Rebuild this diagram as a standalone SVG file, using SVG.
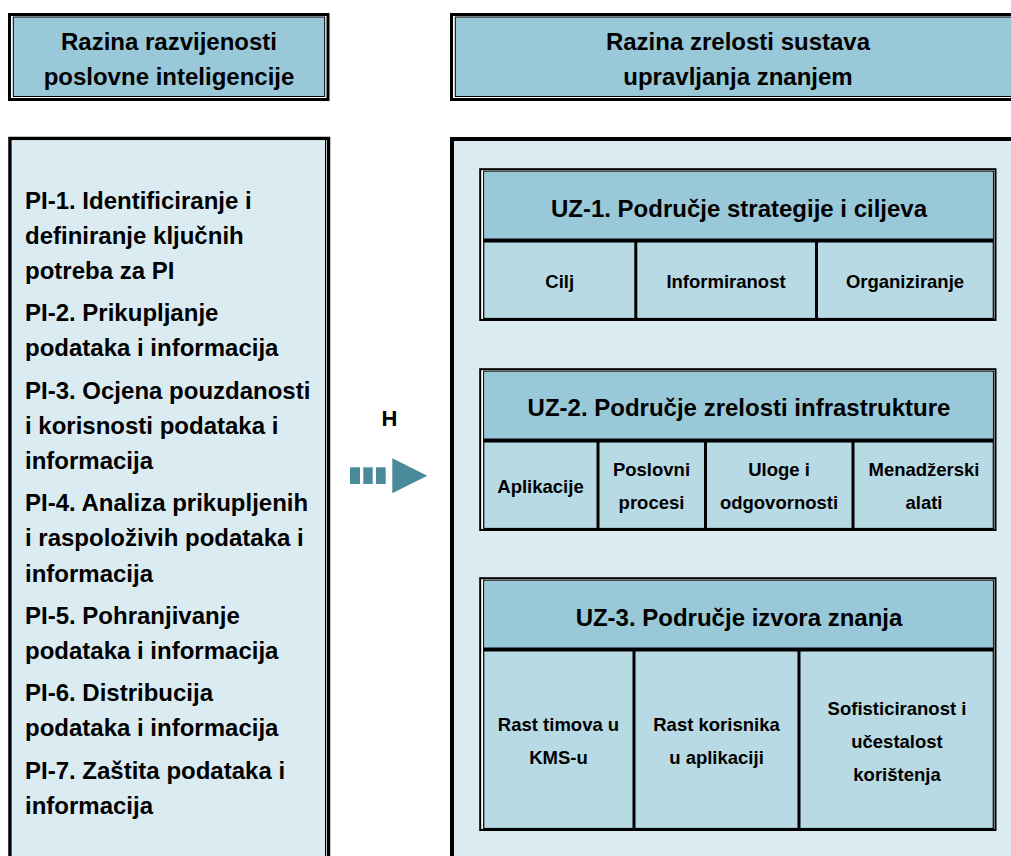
<svg xmlns="http://www.w3.org/2000/svg" width="1011" height="856" viewBox="0 0 1011 856">
<style>
text{font-family:"Liberation Sans",Arial,sans-serif;font-weight:bold;fill:#000}
.big{font-size:24px}
.mid{font-size:24px;text-anchor:middle}
.sm{font-size:18.5px;text-anchor:middle}
.hdr{fill:#99C9D8}
.body{fill:#DAECF2}
.cell{fill:#B8DAE4}
.outer{fill:#fff;stroke:#000;stroke-width:2}
.inner{stroke:#000;stroke-width:1.2}
.sep{stroke:#000;stroke-width:4}
.div{stroke:#000;stroke-width:3}
.arrow{fill:#4A8A9B}
</style>
<rect x="0" y="0" width="1011" height="856" fill="#fff"/>

<g id="hdr-left">
<rect x="9.5" y="14.5" width="318.5" height="85" fill="#fff" stroke="#000" stroke-width="3"/>
<rect x="13.3" y="17" width="311.4" height="79.5" class="hdr" stroke="#000" stroke-width="1"/>
<text class="mid" x="169" y="50">Razina razvijenosti</text>
<text class="mid" x="169" y="85">poslovne inteligencije</text>
</g>

<g id="hdr-right">
<rect x="451.5" y="14.5" width="600" height="85" fill="#fff" stroke="#000" stroke-width="3"/>
<rect x="455.3" y="17" width="600" height="79.5" class="hdr" stroke="#000" stroke-width="1"/>
<text class="mid" x="738" y="50">Razina zrelosti sustava</text>
<text class="mid" x="738" y="85">upravljanja znanjem</text>
</g>

<g id="body-left">
<rect x="10" y="138.5" width="318.5" height="760" fill="#fff" stroke="#000" stroke-width="3.5"/>
<rect x="11.8" y="140.3" width="313.5" height="760" class="body"/>
<line x1="325.5" y1="140" x2="325.5" y2="856" stroke="#000" stroke-width="1"/>
<text class="big" x="25" y="208.5">PI-1. Identificiranje i</text>
<text class="big" x="25" y="243.7">definiranje ključnih</text>
<text class="big" x="25" y="278.9">potreba za PI</text>
<text class="big" x="25" y="321.1">PI-2. Prikupljanje</text>
<text class="big" x="25" y="356.3">podataka i informacija</text>
<text class="big" x="25" y="398.5">PI-3. Ocjena pouzdanosti</text>
<text class="big" x="25" y="433.7">i korisnosti podataka i</text>
<text class="big" x="25" y="468.9">informacija</text>
<text class="big" x="25" y="511.1">PI-4. Analiza prikupljenih</text>
<text class="big" x="25" y="546.3">i raspoloživih podataka i</text>
<text class="big" x="25" y="581.5">informacija</text>
<text class="big" x="25" y="623.7">PI-5. Pohranjivanje</text>
<text class="big" x="25" y="658.9">podataka i informacija</text>
<text class="big" x="25" y="701.1">PI-6. Distribucija</text>
<text class="big" x="25" y="736.3">podataka i informacija</text>
<text class="big" x="25" y="778.5">PI-7. Zaštita podataka i</text>
<text class="big" x="25" y="813.7">informacija</text>
</g>

<g id="body-right">
<rect x="452" y="139" width="600" height="760" class="body" stroke="#000" stroke-width="4"/>
</g>

<g id="uz1">
<rect class="outer" x="480.2" y="169.2" width="515.3" height="150.8"/>
<rect class="inner cell" x="483.7" y="171.2" width="509.6" height="147.3"/>
<rect class="hdr" x="484.3" y="171.8" width="508.4" height="68.7"/>
<line class="sep" x1="483.7" y1="240.5" x2="993.3" y2="240.5"/>
<line class="div" x1="635.8" y1="240.5" x2="635.8" y2="318.5"/>
<line class="div" x1="816.5" y1="240.5" x2="816.5" y2="318.5"/>
<text class="mid" x="739" y="217">UZ-1. Područje strategije i ciljeva</text>
<text class="sm" x="559.7" y="287.5">Cilj</text>
<text class="sm" x="726" y="287.5">Informiranost</text>
<text class="sm" x="905" y="287.5">Organiziranje</text>
</g>

<g id="uz2">
<rect class="outer" x="480.2" y="369.2" width="515.3" height="160.8"/>
<rect class="inner cell" x="483.7" y="371.2" width="509.6" height="157.3"/>
<rect class="hdr" x="484.3" y="371.8" width="508.4" height="68.7"/>
<line class="sep" x1="483.7" y1="440.5" x2="993.3" y2="440.5"/>
<line class="div" x1="598" y1="440.5" x2="598" y2="528.5"/>
<line class="div" x1="705.5" y1="440.5" x2="705.5" y2="528.5"/>
<line class="div" x1="853" y1="440.5" x2="853" y2="528.5"/>
<text class="mid" x="739" y="416">UZ-2. Područje zrelosti infrastrukture</text>
<text class="sm" x="540.5" y="492.5">Aplikacije</text>
<text class="sm" x="651.5" y="475.5">Poslovni</text>
<text class="sm" x="651.5" y="508.5">procesi</text>
<text class="sm" x="779" y="475.5">Uloge i</text>
<text class="sm" x="779" y="508.5">odgovornosti</text>
<text class="sm" x="924" y="475.5">Menadžerski</text>
<text class="sm" x="924" y="508.5">alati</text>
</g>

<g id="uz3">
<rect class="outer" x="480.2" y="578.2" width="515.3" height="251.8"/>
<rect class="inner cell" x="483.7" y="580.2" width="509.6" height="248.3"/>
<rect class="hdr" x="484.3" y="580.8" width="508.4" height="68.7"/>
<line class="sep" x1="483.7" y1="649.5" x2="993.3" y2="649.5"/>
<line class="div" x1="634" y1="649.5" x2="634" y2="828.5"/>
<line class="div" x1="799" y1="649.5" x2="799" y2="828.5"/>
<text class="mid" x="739" y="626">UZ-3. Područje izvora znanja</text>
<text class="sm" x="558.5" y="730.5">Rast timova u</text>
<text class="sm" x="558.5" y="763.5">KMS-u</text>
<text class="sm" x="716.5" y="730.5">Rast korisnika</text>
<text class="sm" x="716.5" y="763.5">u aplikaciji</text>
<text class="sm" x="897" y="714.5">Sofisticiranost i</text>
<text class="sm" x="897" y="747.5">učestalost</text>
<text class="sm" x="897" y="780.5">korištenja</text>
</g>

<g id="connectors">
<rect class="arrow" x="350" y="467.3" width="10" height="16.7"/>
<rect class="arrow" x="363.3" y="467.3" width="9.4" height="16.7"/>
<rect class="arrow" x="376" y="467.3" width="9.7" height="16.7"/>
<polygon class="arrow" points="392.3,458.3 427.3,475.8 392.3,493.3"/>
<text x="389.5" y="426" style="font-size:22px;text-anchor:middle">H</text>
</g>
</svg>
